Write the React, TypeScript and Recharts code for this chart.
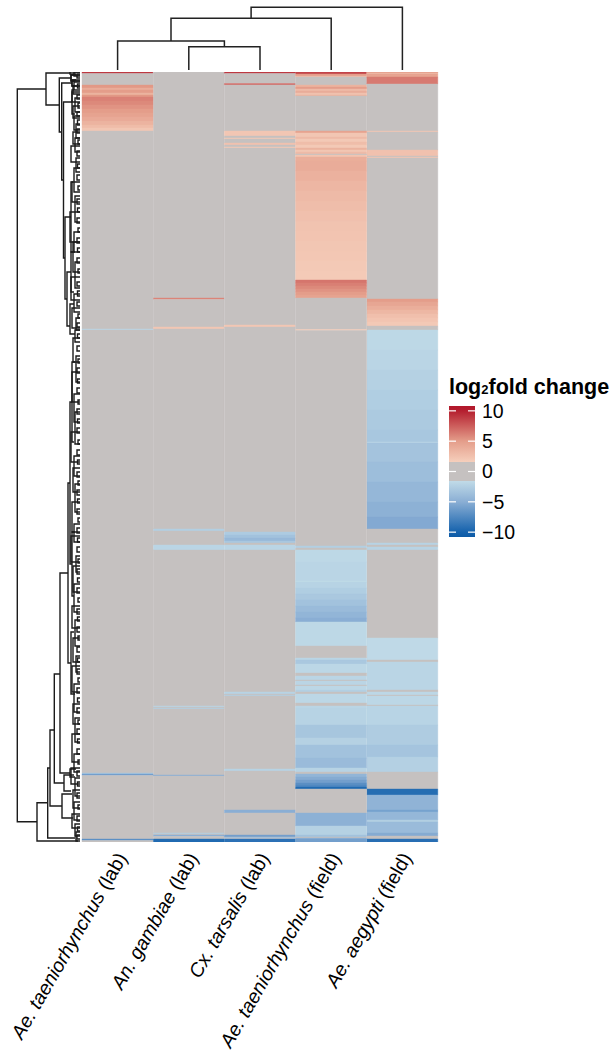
import React from 'react';
import {
  BarChart,
  Bar,
  Cell,
  XAxis,
  YAxis,
  LineChart,
  Line,
  ComposedChart,
  Area,
} from 'recharts';

const FONT = "'Liberation Sans', Arial, Helvetica, sans-serif";
const ROWS = 770; // genes, in heatmap row order

const species = ['Ae. taeniorhynchus', 'An. gambiae', 'Cx. tarsalis', 'Ae. taeniorhynchus', 'Ae. aegypti'];
const origin = ['(lab)', '(lab)', '(lab)', '(field)', '(field)'];

// each column: [fromRow, toRow, log2 fold change]; rows not listed are 0
const aeTaenLab = [
  [0, 1.5, 9], [13, 16, 5.2], [16, 18, 4], [18, 21, 5], [21, 23, 3.5], [23, 25, 5.2],
  [25, 29, 6.1], [29, 33, 5.8], [33, 37, 5.4], [37, 41, 5.0], [41, 45, 4.6], [45, 49, 4.1],
  [49, 53, 3.5], [53, 56, 2.9], [56, 59, 2.2], [257, 258, -2], [701, 702, -3], [702, 703.5, -6],
  [767, 768.5, -7],
];
const anGamLab = [
  [226, 227.5, 6], [255, 257, 2.2], [457, 459, -2.5], [473, 478, -2], [634, 635, -2],
  [636, 637, -2.5], [703, 704, -5], [761, 762, -2.5], [763, 764.5, -5], [767, 770, -9.5],
];
const cxTarLab = [
  [0, 1.5, 9], [11.5, 13, 7], [59, 64, 2.2], [66, 67, 2], [71, 73, 2.5], [75, 76, 2],
  [253, 255, 2.2], [460, 463, -2.8], [463, 466, -3.5], [466, 469, -4.2], [469, 471, -3],
  [473, 478, -2], [620, 622, -2.2], [623, 624, -2.5], [697, 699, -2.2], [738, 741, -5],
  [763, 765, -6], [765.5, 766.5, -4], [767, 770, -9],
];
const aeTaenField = [
  [0, 2, 8.5], [2, 4, 5], [4, 5, 3], [13, 15, 3.5], [15, 17, 5], [17, 19, 3], [19, 21, 4],
  [21, 23, 2.5], [23, 24, 3.5], [59, 61, 4.5], [61, 65, 2.2], [65, 67, 3], [67, 70, 2],
  [70, 73, 2.8], [73, 76, 2], [76, 78, 3.5], [78, 80, 2.2], [80, 82, 3], [83, 85, 2.3],
  [85, 89, 3.8], [89, 99, 4.0], [99, 109, 3.6], [109, 119, 3.3], [119, 129, 3.0],
  [129, 139, 2.8], [139, 149, 2.6], [149, 159, 2.4], [159, 169, 2.3], [169, 179, 2.2],
  [179, 189, 2.1], [189, 199, 2.0], [199, 208, 1.9], [208, 211, 6.6], [211, 214, 6.2],
  [214, 217, 5.8], [217, 220, 5.4], [220, 223, 5.0], [223, 226, 4.6], [257.5, 258.5, 2],
  [474, 476, -2.5], [478, 490, -1.8], [490, 509, -2.0], [509, 510, -1.6], [510, 516, -2.2],
  [516, 522, -2.6], [522, 528, -3], [528, 534, -3.5], [534, 540, -4], [540, 546, -4.5],
  [546, 550, -5], [550, 574, -1.8], [586, 588, -2], [588, 592, -3], [592, 601, -1.9],
  [604, 608, -2], [609, 613, -2], [614, 618, -1.9], [618, 620, -2.5], [622, 631, -1.9],
  [634, 636, -2], [636, 653, -2.2], [653, 666, -3.2], [666, 673, -2.3], [673, 686, -3.5],
  [686, 696, -4], [696, 700, -2.2], [702, 705, -4.5], [705, 708, -5.2], [708, 711, -6],
  [711, 713, -7], [713, 715, -7.5], [715, 717, -9.5], [741, 754, -4.8], [754, 763, -2.3],
  [763, 765, -3.5], [766, 767, -5], [767, 770, -6],
];
const aeAegField = [
  [0, 1, 5], [1, 2, 3], [2, 5, 4.5], [5, 12, 6.4], [59, 60, 2.2], [78, 84, 2.5], [85, 86, 2.2],
  [227, 230, 5.0], [230, 234, 4.4], [234, 238, 3.8], [238, 242, 3.2], [242, 246, 2.7],
  [246, 250, 2.3], [250, 254, 2.0], [258, 278, -1.8], [278, 298, -2.0], [298, 318, -2.3],
  [318, 338, -2.6], [338, 358, -2.9], [358, 370, -3.1], [370, 371, -2.0], [371, 390, -3.4],
  [390, 410, -3.8], [410, 430, -4.3], [430, 445, -4.8], [445, 457, -5.3], [471, 473, -2.2],
  [475, 478, -2.2], [566, 588, -1.7], [590, 618, -2.0], [620, 623, -1.9], [624, 633, -1.9],
  [634, 653, -2.1], [653, 673, -2.7], [673, 685, -3.3], [685, 700, -2.4], [717, 723, -9.3],
  [723, 738, -4.6], [738, 740, -5.8], [740, 748, -4.3], [748, 750, -2.5], [750, 761, -4],
  [761, 764, -5.2], [767, 770, -9.2],
];
const columnBlocks = [aeTaenLab, anGamLab, cxTarLab, aeTaenField, aeAegField];

// column dendrogram, hclust style merge table
const colMerge = [[-2, -3], [-1, 1], [2, -4], [3, -5]];
const colMergeHeight = [2.33, 2.9, 5.17, 6.27];

// row dendrogram links: [height, rowA, heightA, rowB, heightB]
const rowLinks = [
  [62.7, 17, 34, 749.7, 43],
  [34, 1, 10, 33, 20.7],
  [10, 0, 0, 2, 4],
  [20.7, 6, 9, 60, 18.3],
  [18.3, 11, 8, 108, 16.5],
  [16.5, 30, 8, 186, 15],
  [15, 145, 9, 227, 13],
  [13, 200, 9, 254, 10],
  [43, 730.7, 32.3, 769, 2],
  [32.3, 696, 30, 766, 5],
  [30, 658, 25.7, 734, 18],
  [25.7, 602, 20, 711, 16],
  [20, 501, 12, 701, 10],
  [12, 411, 10, 591, 9],
  [10, 330, 8, 492, 8],
  [18, 722, 8, 746, 7],
  [16, 703, 6, 719, 9],
  [10, 697, 4, 705, 5],
  [9, 560, 6, 622, 5],
  [8, 290, 5, 370, 6],
  [8, 460, 5, 524, 6],
  [9, 3, 4, 9, 5],
  [8, 8, 4, 14, 5],
  [8, 18, 6, 42, 5],
  [9, 110, 7, 180, 6],
  [9, 180, 5, 220, 6],
  [10, 232, 6, 262, 5],
];
// small leaf clusters: [rowTop, rowBottom, height]
const rowTips = [
  [0, 4, 6], [3, 9, 9], [8, 14, 8], [10, 18, 6], [14, 22, 7], [20, 30, 8], [26, 40, 5],
  [34, 46, 7], [44, 58, 6], [52, 66, 4], [60, 72, 7], [66, 80, 5], [74, 90, 9], [86, 100, 4],
  [96, 120, 6], [110, 130, 8], [124, 150, 5], [140, 170, 10], [160, 180, 6], [170, 200, 7],
  [190, 216, 5], [205, 228, 9], [222, 240, 6], [236, 256, 8], [246, 258, 4], [258, 270, 5],
  [266, 290, 7], [284, 310, 4], [300, 330, 8], [322, 350, 6], [340, 372, 5], [360, 390, 9],
  [384, 404, 6], [396, 420, 7], [412, 440, 5], [430, 460, 8], [452, 470, 6], [464, 490, 9],
  [484, 500, 4], [494, 520, 7], [512, 540, 6], [534, 556, 8], [548, 574, 5], [566, 590, 7],
  [584, 600, 4], [594, 620, 8], [612, 640, 6], [632, 652, 7], [646, 670, 5], [662, 690, 8],
  [682, 700, 6], [696, 712, 9], [706, 724, 5], [718, 736, 7], [730, 748, 6], [742, 756, 8],
  [752, 764, 5], [760, 769, 4],
  [2, 6, 3], [12, 16, 2.5], [23, 27, 3], [31, 36, 2], [40, 44, 3], [48, 53, 2.5], [57, 61, 3],
  [68, 72, 2], [79, 84, 3], [92, 96, 2.5], [103, 108, 3], [114, 118, 2], [127, 132, 3],
  [136, 140, 2.5], [146, 151, 3], [156, 160, 2], [166, 171, 3], [176, 180, 2.5], [186, 191, 3],
  [197, 201, 2], [210, 214, 3], [219, 224, 2.5], [230, 234, 3], [242, 246, 2], [251, 255, 3],
  [262, 266, 2.5], [274, 279, 3], [287, 291, 2], [296, 301, 3], [307, 311, 2.5], [316, 321, 3],
  [328, 332, 2], [337, 342, 3], [347, 351, 2.5], [356, 361, 3], [368, 372, 2], [378, 383, 3],
  [388, 392, 2.5], [400, 405, 3], [409, 413, 2], [418, 423, 3], [427, 431, 2.5], [437, 442, 3],
  [446, 450, 2], [456, 461, 3], [466, 470, 2.5], [475, 480, 3], [487, 491, 2], [497, 502, 3],
  [506, 510, 2.5], [516, 521, 3], [526, 530, 2], [537, 542, 3], [545, 549, 2.5], [555, 560, 3],
  [564, 568, 2], [575, 580, 3], [586, 590, 2.5], [597, 602, 3], [606, 610, 2], [616, 621, 3],
  [626, 630, 2.5], [636, 641, 3], [648, 652, 2], [657, 662, 3], [667, 671, 2.5], [677, 682, 3],
  [688, 692, 2], [699, 704, 3], [710, 714, 2.5], [721, 726, 3], [733, 737, 2], [744, 749, 3],
  [755, 759, 2.5], [763, 767, 3],
];

const legendTicks = [-10, -5, 0, 5, 10];
const legendMin = -10.8;
const legendMax = 10.8;
const legendBand = [
  { x: 0, band: [legendMin, legendMax] },
  { x: 1, band: [legendMin, legendMax] },
];
const blueStops: [number, string][] = [[-10.8, '#0c5aa6'], [-10, '#1562ad'], [-5, '#8aaed4'], [-1.5, '#c2dce8']];
const redStops: [number, string][] = [[1.5, '#f6d0bd'], [5, '#e49d8a'], [10, '#b51f2f'], [10.8, '#b2182b']];
const ZERO = '#c5c1c0';

const rgb = (c: string) => [1, 3, 5].map((i) => parseInt(c.slice(i, i + 2), 16));
const ramp = (stops: [number, string][], v: number) => {
  if (v <= stops[0][0]) return stops[0][1];
  for (let i = 1; i < stops.length; i++) {
    if (v <= stops[i][0]) {
      const t = (v - stops[i - 1][0]) / (stops[i][0] - stops[i - 1][0]);
      const a = rgb(stops[i - 1][1]);
      const b = rgb(stops[i][1]);
      return `rgb(${a.map((c, k) => Math.round(c + (b[k] - c) * t)).join(',')})`;
    }
  }
  return stops[stops.length - 1][1];
};
const fcColor = (v: number) => (Math.abs(v) < 1.5 ? ZERO : v < 0 ? ramp(blueStops, v) : ramp(redStops, v));

// turn blocks into stacked segments [length, value]
const segments = columnBlocks.map((blocks) => {
  const out: number[][] = [];
  let cur = 0;
  blocks.forEach(([a, b, v]) => {
    const start = Math.max(a, cur);
    if (start > cur) out.push([start - cur, 0]);
    out.push([b - start, v]);
    cur = b;
  });
  if (cur < ROWS) out.push([ROWS - cur, 0]);
  return out;
});
const nSeg = Math.max(...segments.map((s) => s.length));
const heatData = segments.map((s, i) => {
  const row: Record<string, number> = { col: i };
  for (let j = 0; j < nSeg; j++) row['s' + j] = s[j] ? s[j][0] : 0;
  return row;
});

// column dendrogram paths
const colPaths: { x: number; y: number }[][] = [];
const nodeX: number[] = [];
const nodeH: number[] = [];
const colPos = (m: number) => (m < 0 ? [-m - 0.5, 0] : [nodeX[m - 1], nodeH[m - 1]]);
colMerge.forEach(([a, b], k) => {
  const [xa, ha] = colPos(a);
  const [xb, hb] = colPos(b);
  const h = colMergeHeight[k];
  colPaths.push([{ x: xa, y: ha }, { x: xa, y: h }, { x: xb, y: h }, { x: xb, y: hb }]);
  nodeX[k] = (xa + xb) / 2;
  nodeH[k] = h;
});

const rowPaths = [
  ...rowLinks.map(([h, ya, ha, yb, hb]) => [{ x: ha, y: ya }, { x: h, y: ya }, { x: h, y: yb }, { x: hb, y: yb }]),
  ...rowTips.map(([ya, yb, h]) => [{ x: 0, y: ya }, { x: h, y: ya }, { x: h, y: yb }, { x: 0, y: yb }]),
];

// white tick marks on both edges of the colour bar
const legendDashes = legendTicks.flatMap((t) => [
  [{ x: 0, y: t }, { x: 0.27, y: t }],
  [{ x: 0.73, y: t }, { x: 1, y: t }],
]);

const gradientStops = [
  ...[...redStops].reverse(),
  [1.5, ZERO] as [number, string],
  [-1.5, ZERO] as [number, string],
  ...[...blueStops].reverse(),
];

const SampleTick = (props: any) => {
  const { x, y, payload } = props;
  const i = payload.value;
  return (
    <g transform={`translate(${x + 4},${y + 4})`}>
      <text transform="rotate(-60)" textAnchor="end" dominantBaseline="central" fontSize={19.5} fontFamily={FONT} fill="#000">
        <tspan fontStyle="italic">{species[i]}</tspan>
        <tspan>{' ' + origin[i]}</tspan>
      </text>
    </g>
  );
};

const App = () => {
  return (
    <div style={{ position: 'absolute', left: 0, top: 0, width: 613, height: 1050, background: '#fff' }}>
      <div style={{ position: 'absolute', left: 0, top: 0 }}>
        <BarChart width={613} height={1050} data={heatData} margin={{ top: 72, right: 175, bottom: 0, left: 82 }} barCategoryGap={0} barGap={0}>
          <XAxis dataKey="col" type="category" height={208} axisLine={false} tickLine={false} interval={0} tick={<SampleTick />} />
          <YAxis type="number" domain={[0, ROWS]} reversed hide allowDataOverflow />
          {Array.from({ length: nSeg }, (_, j) => (
            <Bar key={j} dataKey={'s' + j} stackId="heat" isAnimationActive={false}>
              {segments.map((s, i) => {
                const c = s[j] ? fcColor(s[j][1]) : ZERO;
                return <Cell key={i} fill={c} stroke={c} strokeWidth={0.4} />;
              })}
            </Bar>
          ))}
        </BarChart>
      </div>

      <div style={{ position: 'absolute', left: 80, top: 0 }}>
        <LineChart width={360} height={71} margin={{ top: 0, right: 2, bottom: 1, left: 2 }}>
          <XAxis type="number" dataKey="x" domain={[0, 5]} hide />
          <YAxis type="number" domain={[0, 7]} hide />
          {colPaths.map((p, k) => (
            <Line key={k} data={p} dataKey="y" stroke="#222" strokeWidth={1.5} dot={false} isAnimationActive={false} />
          ))}
        </LineChart>
      </div>

      <div style={{ position: 'absolute', left: 15, top: 72 }}>
        <LineChart width={67} height={770} margin={{ top: 0, right: 2, bottom: 0, left: 2 }}>
          <XAxis type="number" dataKey="x" domain={[0, 63]} reversed hide />
          <YAxis type="number" domain={[0, ROWS]} reversed hide />
          {rowPaths.map((p, k) => (
            <Line key={k} data={p} dataKey="y" stroke="#1b1b1b" strokeWidth={1.4} dot={false} isAnimationActive={false} />
          ))}
        </LineChart>
      </div>

      <div style={{ position: 'absolute', left: 449, top: 377, fontFamily: FONT, fontWeight: 'bold', fontSize: 21.5, lineHeight: 1, whiteSpace: 'nowrap', color: '#000' }}>
        log<span style={{ fontSize: 13 }}>2</span>fold change
      </div>

      <div style={{ position: 'absolute', left: 449, top: 394 }}>
        <ComposedChart width={130} height={155} data={legendBand} margin={{ top: 12, right: 0, bottom: 12, left: 0 }}>
          <defs>
            <linearGradient id="fcRamp" x1="0" y1="0" x2="0" y2="1">
              {gradientStops.map(([v, c], k) => (
                <stop key={k} offset={(legendMax - v) / (legendMax - legendMin)} stopColor={c} />
              ))}
            </linearGradient>
          </defs>
          <XAxis type="number" dataKey="x" domain={[0, 1]} hide />
          <YAxis
            type="number"
            orientation="right"
            domain={[legendMin, legendMax]}
            ticks={legendTicks}
            interval={0}
            width={104}
            axisLine={false}
            tickLine={false}
            tickSize={5}
            tickMargin={2}
            tick={{ fontSize: 19.5, fill: '#000', fontFamily: FONT }}
            tickFormatter={(v: number) => (v < 0 ? '\u2212' + -v : String(v))}
          />
          <Area type="linear" dataKey="band" fill="url(#fcRamp)" fillOpacity={1} stroke="none" isAnimationActive={false} />
          {legendDashes.map((p, k) => (
            <Line key={k} data={p} dataKey="y" stroke="#fff" strokeWidth={1.2} dot={false} isAnimationActive={false} />
          ))}
        </ComposedChart>
      </div>
    </div>
  );
};

export default App;
